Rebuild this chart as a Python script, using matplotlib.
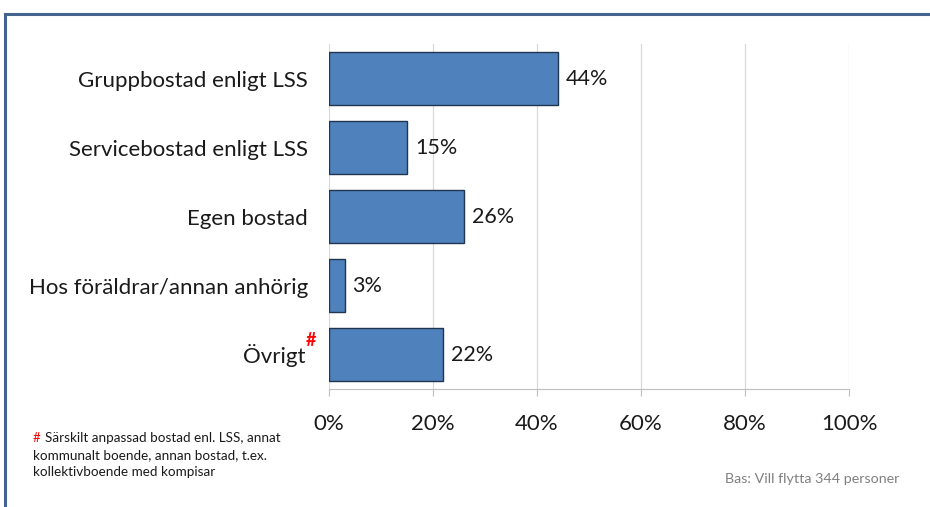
import matplotlib.pyplot as plt
from matplotlib.lines import Line2D
from matplotlib.ticker import FuncFormatter

plt.rcParams['font.family'] = ['Lato', 'DejaVu Sans']

# Data
categories = ['Gruppbostad enligt LSS', 'Servicebostad enligt LSS', 'Egen bostad',
              'Hos föräldrar/annan anhörig', 'Övrigt']
values = [44, 15, 26, 3, 22]
x_ticks = [0, 20, 40, 60, 80, 100]
footnote_first = 'Särskilt anpassad bostad enl. LSS, annat'
footnote_rest = 'kommunalt boende, annan bostad, t.ex.\nkollektivboende med kompisar'
base_note = 'Bas: Vill flytta 344 personer'

fig = plt.figure(figsize=(9.3, 5.07), dpi=100)
ax = fig.add_axes([0.3538, 0.2327, 0.5591, 0.6805])

y = list(range(len(categories)))
ax.barh(y, values, height=0.77, color='#4F81BD', edgecolor='#1F3550', linewidth=1.0, zorder=3)
ax.set_ylim(len(categories) - 0.5, -0.5)
ax.set_xlim(0, 100)

# value labels
for yi, v in zip(y, values):
    ax.text(v + 1.5, yi, f'{v}%', va='center', ha='left', fontsize=15.5, color='#1a1a1a')

# grid
ax.set_xticks(x_ticks)
ax.xaxis.set_major_formatter(FuncFormatter(lambda v, p: f'{v:.0f}%'))
ax.grid(axis='x', color='#D9D9D9', linewidth=0.9, zorder=0)
ax.tick_params(axis='x', length=5, color='#BFBFBF', labelsize=16, pad=13, labelcolor='#1a1a1a')
for s in ['top', 'right', 'left']:
    ax.spines[s].set_visible(False)
ax.spines['bottom'].set_color('#BFBFBF')

# category labels
ax.set_yticks(y)
labels = categories[:-1] + ['']
ax.set_yticklabels(labels, fontsize=16, color='#1a1a1a')
ax.tick_params(axis='y', length=0, pad=15)
ax.text(-0.045, y[-1] + 0.02, categories[-1], transform=ax.get_yaxis_transform(),
        ha='right', va='center', fontsize=16, color='#1a1a1a')
ax.text(-0.045, y[-1] - 0.2, '#', transform=ax.get_yaxis_transform(),
        ha='left', va='center', fontsize=13, color='#FF0000', fontweight='bold')

# notes
fig.text(33 / 930, 1 - 438 / 507, '#', color='#FF0000', fontsize=9.5, va='center', ha='left')
fig.text(45 / 930, 1 - 438 / 507, footnote_first, color='#1a1a1a', fontsize=9.7, va='center', ha='left')
fig.text(33 / 930, 1 - 449 / 507, footnote_rest, color='#1a1a1a', fontsize=9.7, va='top', ha='left',
         linespacing=1.55)
fig.text(899 / 930, 1 - 479 / 507, base_note, color='#808080', fontsize=10.3, va='center', ha='right')

# frame
fig.add_artist(Line2D([5 / 930, 1], [1 - 14 / 507, 1 - 14 / 507], color='#44648E', linewidth=2.2))
fig.add_artist(Line2D([5 / 930, 5 / 930], [0, 1 - 14 / 507], color='#44648E', linewidth=2.2))

fig.savefig('out.png', dpi=100)
